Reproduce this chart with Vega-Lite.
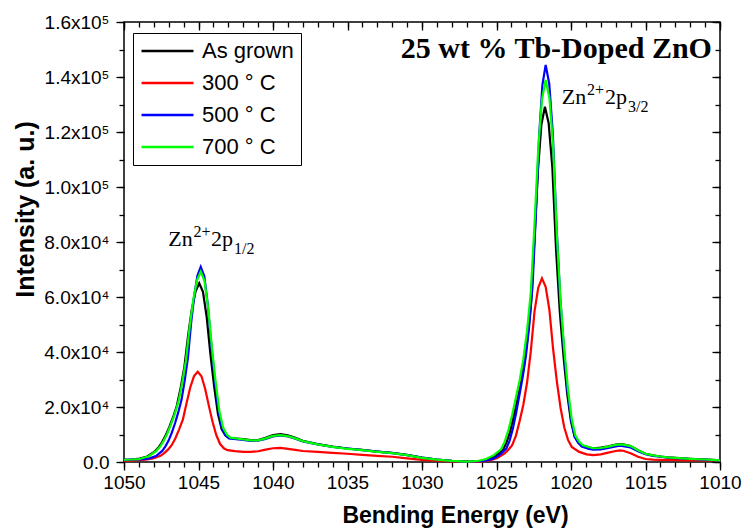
{
  "$schema": "https://vega.github.io/schema/vega-lite/v6.json",
  "width": 596,
  "height": 440,
  "autosize": {"type": "none"},
  "padding": {"left": 124, "top": 22, "right": 26, "bottom": 70},
  "background": "white",
  "config": {
    "view": {"stroke": "black", "strokeWidth": 1.5},
    "axis": {"domain": false, "grid": false, "tickColor": "black", "labelColor": "black", "titleColor": "black", "labelFont": "Liberation Sans", "titleFont": "Liberation Sans", "tickWidth": 1.3}
  },
  "datasets": {
    "spec": [
      {"s":"As grown","E":1050,"I":800},{"s":"As grown","E":1049.5,"I":900},{"s":"As grown","E":1048.95,"I":1223},{"s":"As grown","E":1048.45,"I":2010},{"s":"As grown","E":1047.95,"I":3717},{"s":"As grown","E":1047.7,"I":5154},{"s":"As grown","E":1047.45,"I":7153},{"s":"As grown","E":1047.2,"I":9683},{"s":"As grown","E":1046.95,"I":12842},{"s":"As grown","E":1046.7,"I":16368},{"s":"As grown","E":1046.45,"I":20523},{"s":"As grown","E":1046.2,"I":26886},{"s":"As grown","E":1045.95,"I":34501},{"s":"As grown","E":1045.7,"I":45900},{"s":"As grown","E":1045.45,"I":55477},{"s":"As grown","E":1045.2,"I":61975},{"s":"As grown","E":1044.95,"I":65000},{"s":"As grown","E":1044.7,"I":61917},{"s":"As grown","E":1044.45,"I":52696},{"s":"As grown","E":1044.2,"I":39179},{"s":"As grown","E":1043.95,"I":27493},{"s":"As grown","E":1043.7,"I":17608},{"s":"As grown","E":1043.45,"I":12000},{"s":"As grown","E":1043.2,"I":9688},{"s":"As grown","E":1042.95,"I":8717},{"s":"As grown","E":1042.45,"I":8474},{"s":"As grown","E":1042,"I":8300},{"s":"As grown","E":1041.5,"I":8000},{"s":"As grown","E":1041,"I":8000},{"s":"As grown","E":1040.5,"I":8800},{"s":"As grown","E":1040,"I":9800},{"s":"As grown","E":1039.5,"I":10100},{"s":"As grown","E":1039,"I":9700},{"s":"As grown","E":1038.5,"I":8800},{"s":"As grown","E":1038,"I":7700},{"s":"As grown","E":1037,"I":6500},{"s":"As grown","E":1036,"I":5600},{"s":"As grown","E":1035,"I":4900},{"s":"As grown","E":1034,"I":4400},{"s":"As grown","E":1033,"I":3800},{"s":"As grown","E":1032,"I":3300},{"s":"As grown","E":1031,"I":2600},{"s":"As grown","E":1030,"I":1600},{"s":"As grown","E":1029,"I":900},{"s":"As grown","E":1028,"I":420},{"s":"As grown","E":1027,"I":150},{"s":"As grown","E":1026.5,"I":280},{"s":"As grown","E":1025.98,"I":458},{"s":"As grown","E":1025.51,"I":1040},{"s":"As grown","E":1025.04,"I":2289},{"s":"As grown","E":1024.57,"I":4328},{"s":"As grown","E":1024.34,"I":6945},{"s":"As grown","E":1024.1,"I":10838},{"s":"As grown","E":1023.87,"I":16007},{"s":"As grown","E":1023.63,"I":21824},{"s":"As grown","E":1023.4,"I":27656},{"s":"As grown","E":1023.16,"I":34789},{"s":"As grown","E":1022.93,"I":44459},{"s":"As grown","E":1022.69,"I":57334},{"s":"As grown","E":1022.46,"I":80332},{"s":"As grown","E":1022.22,"I":105872},{"s":"As grown","E":1021.99,"I":122580},{"s":"As grown","E":1021.75,"I":129200},{"s":"As grown","E":1021.5,"I":123170},{"s":"As grown","E":1021.25,"I":107012},{"s":"As grown","E":1021,"I":76928},{"s":"As grown","E":1020.75,"I":54440},{"s":"As grown","E":1020.5,"I":38282},{"s":"As grown","E":1020.25,"I":24606},{"s":"As grown","E":1020,"I":14728},{"s":"As grown","E":1019.75,"I":9181},{"s":"As grown","E":1019.5,"I":7179},{"s":"As grown","E":1019.25,"I":5963},{"s":"As grown","E":1018.75,"I":5253},{"s":"As grown","E":1018.5,"I":5000},{"s":"As grown","E":1018,"I":5200},{"s":"As grown","E":1017.5,"I":5700},{"s":"As grown","E":1017,"I":6300},{"s":"As grown","E":1016.7,"I":6500},{"s":"As grown","E":1016.5,"I":6400},{"s":"As grown","E":1016,"I":5800},{"s":"As grown","E":1015.5,"I":4300},{"s":"As grown","E":1015,"I":3000},{"s":"As grown","E":1014.5,"I":2400},{"s":"As grown","E":1014,"I":2000},{"s":"As grown","E":1013.5,"I":1700},{"s":"As grown","E":1013,"I":1500},{"s":"As grown","E":1012,"I":1150},{"s":"As grown","E":1011,"I":900},{"s":"As grown","E":1010.5,"I":750},{"s":"As grown","E":1010,"I":600},
      {"s":"300 ° C","E":1050,"I":500},{"s":"300 ° C","E":1049.5,"I":520},{"s":"300 ° C","E":1049.05,"I":637},{"s":"300 ° C","E":1048.55,"I":841},{"s":"300 ° C","E":1048.05,"I":1260},{"s":"300 ° C","E":1047.55,"I":2255},{"s":"300 ° C","E":1047.3,"I":3219},{"s":"300 ° C","E":1047.05,"I":4489},{"s":"300 ° C","E":1046.8,"I":6106},{"s":"300 ° C","E":1046.55,"I":8665},{"s":"300 ° C","E":1046.3,"I":11879},{"s":"300 ° C","E":1046.05,"I":15410},{"s":"300 ° C","E":1045.8,"I":21441},{"s":"300 ° C","E":1045.55,"I":27174},{"s":"300 ° C","E":1045.3,"I":31217},{"s":"300 ° C","E":1045.05,"I":32800},{"s":"300 ° C","E":1044.8,"I":31196},{"s":"300 ° C","E":1044.55,"I":26527},{"s":"300 ° C","E":1044.3,"I":20322},{"s":"300 ° C","E":1044.05,"I":14424},{"s":"300 ° C","E":1043.8,"I":9715},{"s":"300 ° C","E":1043.55,"I":6534},{"s":"300 ° C","E":1043.3,"I":5003},{"s":"300 ° C","E":1043.05,"I":4323},{"s":"300 ° C","E":1042.55,"I":3954},{"s":"300 ° C","E":1042,"I":3700},{"s":"300 ° C","E":1041.5,"I":3700},{"s":"300 ° C","E":1041,"I":3900},{"s":"300 ° C","E":1040.5,"I":4500},{"s":"300 ° C","E":1040,"I":5000},{"s":"300 ° C","E":1039.5,"I":5100},{"s":"300 ° C","E":1039,"I":4800},{"s":"300 ° C","E":1038.5,"I":4400},{"s":"300 ° C","E":1038,"I":4000},{"s":"300 ° C","E":1037,"I":3700},{"s":"300 ° C","E":1036,"I":3350},{"s":"300 ° C","E":1035,"I":3000},{"s":"300 ° C","E":1034,"I":2600},{"s":"300 ° C","E":1033,"I":2200},{"s":"300 ° C","E":1032,"I":1900},{"s":"300 ° C","E":1031,"I":1350},{"s":"300 ° C","E":1030,"I":800},{"s":"300 ° C","E":1029,"I":450},{"s":"300 ° C","E":1028,"I":200},{"s":"300 ° C","E":1027,"I":80},{"s":"300 ° C","E":1026.5,"I":60},{"s":"300 ° C","E":1025.95,"I":252},{"s":"300 ° C","E":1025.45,"I":601},{"s":"300 ° C","E":1024.95,"I":1420},{"s":"300 ° C","E":1024.45,"I":3104},{"s":"300 ° C","E":1024.2,"I":4444},{"s":"300 ° C","E":1023.95,"I":6133},{"s":"300 ° C","E":1023.7,"I":9495},{"s":"300 ° C","E":1023.45,"I":14830},{"s":"300 ° C","E":1023.2,"I":20823},{"s":"300 ° C","E":1022.95,"I":28798},{"s":"300 ° C","E":1022.7,"I":40100},{"s":"300 ° C","E":1022.45,"I":54690},{"s":"300 ° C","E":1022.2,"I":63363},{"s":"300 ° C","E":1021.95,"I":66785},{"s":"300 ° C","E":1021.7,"I":63673},{"s":"300 ° C","E":1021.45,"I":55300},{"s":"300 ° C","E":1021.2,"I":41010},{"s":"300 ° C","E":1020.95,"I":29345},{"s":"300 ° C","E":1020.7,"I":19633},{"s":"300 ° C","E":1020.45,"I":12540},{"s":"300 ° C","E":1020.2,"I":8038},{"s":"300 ° C","E":1019.95,"I":5503},{"s":"300 ° C","E":1019.45,"I":3675},{"s":"300 ° C","E":1018.95,"I":2784},{"s":"300 ° C","E":1018.5,"I":2500},{"s":"300 ° C","E":1018,"I":2800},{"s":"300 ° C","E":1017.5,"I":3400},{"s":"300 ° C","E":1017,"I":4000},{"s":"300 ° C","E":1016.7,"I":4200},{"s":"300 ° C","E":1016.5,"I":4100},{"s":"300 ° C","E":1016,"I":3200},{"s":"300 ° C","E":1015.5,"I":1900},{"s":"300 ° C","E":1015,"I":1100},{"s":"300 ° C","E":1014.5,"I":850},{"s":"300 ° C","E":1014,"I":750},{"s":"300 ° C","E":1013,"I":650},{"s":"300 ° C","E":1012,"I":600},{"s":"300 ° C","E":1011,"I":550},{"s":"300 ° C","E":1010,"I":500},
      {"s":"500 ° C","E":1050,"I":800},{"s":"500 ° C","E":1049.5,"I":850},{"s":"500 ° C","E":1049,"I":950},{"s":"500 ° C","E":1048.7,"I":1050},{"s":"500 ° C","E":1048.29,"I":1323},{"s":"500 ° C","E":1047.86,"I":2174},{"s":"500 ° C","E":1047.43,"I":4041},{"s":"500 ° C","E":1047.22,"I":5651},{"s":"500 ° C","E":1047,"I":7864},{"s":"500 ° C","E":1046.79,"I":10675},{"s":"500 ° C","E":1046.57,"I":14167},{"s":"500 ° C","E":1046.36,"I":18024},{"s":"500 ° C","E":1046.14,"I":22588},{"s":"500 ° C","E":1045.93,"I":29527},{"s":"500 ° C","E":1045.71,"I":37884},{"s":"500 ° C","E":1045.5,"I":50269},{"s":"500 ° C","E":1045.28,"I":60730},{"s":"500 ° C","E":1045.07,"I":67834},{"s":"500 ° C","E":1044.85,"I":71000},{"s":"500 ° C","E":1044.61,"I":67552},{"s":"500 ° C","E":1044.38,"I":57359},{"s":"500 ° C","E":1044.14,"I":42497},{"s":"500 ° C","E":1043.9,"I":29619},{"s":"500 ° C","E":1043.66,"I":18735},{"s":"500 ° C","E":1043.43,"I":12301},{"s":"500 ° C","E":1043.19,"I":9710},{"s":"500 ° C","E":1042.95,"I":8556},{"s":"500 ° C","E":1042.48,"I":8291},{"s":"500 ° C","E":1042,"I":8000},{"s":"500 ° C","E":1041.5,"I":7700},{"s":"500 ° C","E":1041,"I":7750},{"s":"500 ° C","E":1040.5,"I":8400},{"s":"500 ° C","E":1040,"I":9300},{"s":"500 ° C","E":1039.5,"I":9700},{"s":"500 ° C","E":1039,"I":9300},{"s":"500 ° C","E":1038.5,"I":8500},{"s":"500 ° C","E":1038,"I":7500},{"s":"500 ° C","E":1037,"I":6400},{"s":"500 ° C","E":1036,"I":5500},{"s":"500 ° C","E":1035,"I":4900},{"s":"500 ° C","E":1034,"I":4300},{"s":"500 ° C","E":1033,"I":3800},{"s":"500 ° C","E":1032,"I":3200},{"s":"500 ° C","E":1031,"I":2500},{"s":"500 ° C","E":1030,"I":1600},{"s":"500 ° C","E":1029,"I":900},{"s":"500 ° C","E":1028,"I":420},{"s":"500 ° C","E":1027,"I":150},{"s":"500 ° C","E":1026.5,"I":200},{"s":"500 ° C","E":1026.1,"I":330},{"s":"500 ° C","E":1025.66,"I":538},{"s":"500 ° C","E":1025.22,"I":1195},{"s":"500 ° C","E":1024.78,"I":2591},{"s":"500 ° C","E":1024.34,"I":4867},{"s":"500 ° C","E":1024.12,"I":7787},{"s":"500 ° C","E":1023.9,"I":12139},{"s":"500 ° C","E":1023.68,"I":17919},{"s":"500 ° C","E":1023.46,"I":24417},{"s":"500 ° C","E":1023.24,"I":30945},{"s":"500 ° C","E":1023.02,"I":38896},{"s":"500 ° C","E":1022.8,"I":49722},{"s":"500 ° C","E":1022.58,"I":64096},{"s":"500 ° C","E":1022.36,"I":89809},{"s":"500 ° C","E":1022.14,"I":118387},{"s":"500 ° C","E":1021.92,"I":137053},{"s":"500 ° C","E":1021.7,"I":144400},{"s":"500 ° C","E":1021.46,"I":137553},{"s":"500 ° C","E":1021.22,"I":119377},{"s":"500 ° C","E":1020.97,"I":85609},{"s":"500 ° C","E":1020.73,"I":60346},{"s":"500 ° C","E":1020.49,"I":42170},{"s":"500 ° C","E":1020.25,"I":26778},{"s":"500 ° C","E":1020,"I":15539},{"s":"500 ° C","E":1019.76,"I":9261},{"s":"500 ° C","E":1019.52,"I":6951},{"s":"500 ° C","E":1019.28,"I":5584},{"s":"500 ° C","E":1018.79,"I":4783},{"s":"500 ° C","E":1018.5,"I":4500},{"s":"500 ° C","E":1018,"I":4600},{"s":"500 ° C","E":1017.5,"I":5100},{"s":"500 ° C","E":1017,"I":5700},{"s":"500 ° C","E":1016.7,"I":5900},{"s":"500 ° C","E":1016.5,"I":5800},{"s":"500 ° C","E":1016,"I":5300},{"s":"500 ° C","E":1015.5,"I":3900},{"s":"500 ° C","E":1015,"I":2800},{"s":"500 ° C","E":1014.5,"I":2200},{"s":"500 ° C","E":1014,"I":1900},{"s":"500 ° C","E":1013.5,"I":1600},{"s":"500 ° C","E":1013,"I":1400},{"s":"500 ° C","E":1012,"I":1100},{"s":"500 ° C","E":1011,"I":850},{"s":"500 ° C","E":1010.5,"I":700},{"s":"500 ° C","E":1010,"I":550},
      {"s":"700 ° C","E":1050,"I":820},{"s":"700 ° C","E":1049.5,"I":900},{"s":"700 ° C","E":1049,"I":1050},{"s":"700 ° C","E":1048.85,"I":1257},{"s":"700 ° C","E":1048.35,"I":2091},{"s":"700 ° C","E":1047.85,"I":3905},{"s":"700 ° C","E":1047.6,"I":5433},{"s":"700 ° C","E":1047.35,"I":7579},{"s":"700 ° C","E":1047.1,"I":10268},{"s":"700 ° C","E":1046.85,"I":13655},{"s":"700 ° C","E":1046.6,"I":17398},{"s":"700 ° C","E":1046.35,"I":21840},{"s":"700 ° C","E":1046.1,"I":28599},{"s":"700 ° C","E":1045.85,"I":36740},{"s":"700 ° C","E":1045.6,"I":48851},{"s":"700 ° C","E":1045.35,"I":59062},{"s":"700 ° C","E":1045.1,"I":66046},{"s":"700 ° C","E":1044.85,"I":69200},{"s":"700 ° C","E":1044.6,"I":65880},{"s":"700 ° C","E":1044.35,"I":56025},{"s":"700 ° C","E":1044.1,"I":41597},{"s":"700 ° C","E":1043.85,"I":29099},{"s":"700 ° C","E":1043.6,"I":18541},{"s":"700 ° C","E":1043.35,"I":12497},{"s":"700 ° C","E":1043.1,"I":10007},{"s":"700 ° C","E":1042.85,"I":8834},{"s":"700 ° C","E":1042.35,"I":8466},{"s":"700 ° C","E":1042,"I":8200},{"s":"700 ° C","E":1041.5,"I":7900},{"s":"700 ° C","E":1041,"I":7900},{"s":"700 ° C","E":1040.5,"I":8600},{"s":"700 ° C","E":1040,"I":9500},{"s":"700 ° C","E":1039.5,"I":9800},{"s":"700 ° C","E":1039,"I":9400},{"s":"700 ° C","E":1038.5,"I":8600},{"s":"700 ° C","E":1038,"I":7600},{"s":"700 ° C","E":1037,"I":6400},{"s":"700 ° C","E":1036,"I":5500},{"s":"700 ° C","E":1035,"I":4800},{"s":"700 ° C","E":1034,"I":4300},{"s":"700 ° C","E":1033,"I":3700},{"s":"700 ° C","E":1032,"I":3200},{"s":"700 ° C","E":1031,"I":2500},{"s":"700 ° C","E":1030,"I":1500},{"s":"700 ° C","E":1029,"I":850},{"s":"700 ° C","E":1028,"I":400},{"s":"700 ° C","E":1027,"I":150},{"s":"700 ° C","E":1026.5,"I":300},{"s":"700 ° C","E":1026.2,"I":452},{"s":"700 ° C","E":1025.7,"I":1067},{"s":"700 ° C","E":1025.2,"I":2394},{"s":"700 ° C","E":1024.7,"I":4577},{"s":"700 ° C","E":1024.45,"I":7382},{"s":"700 ° C","E":1024.2,"I":11569},{"s":"700 ° C","E":1023.95,"I":17124},{"s":"700 ° C","E":1023.7,"I":23380},{"s":"700 ° C","E":1023.45,"I":29645},{"s":"700 ° C","E":1023.2,"I":37314},{"s":"700 ° C","E":1022.95,"I":47717},{"s":"700 ° C","E":1022.7,"I":61566},{"s":"700 ° C","E":1022.45,"I":86319},{"s":"700 ° C","E":1022.2,"I":113777},{"s":"700 ° C","E":1021.95,"I":131788},{"s":"700 ° C","E":1021.7,"I":138900},{"s":"700 ° C","E":1021.45,"I":132388},{"s":"700 ° C","E":1021.2,"I":114977},{"s":"700 ° C","E":1020.95,"I":82579},{"s":"700 ° C","E":1020.7,"I":58356},{"s":"700 ° C","E":1020.45,"I":40935},{"s":"700 ° C","E":1020.2,"I":26198},{"s":"700 ° C","E":1019.95,"I":15529},{"s":"700 ° C","E":1019.7,"I":9548},{"s":"700 ° C","E":1019.45,"I":7362},{"s":"700 ° C","E":1019.2,"I":6050},{"s":"700 ° C","E":1018.7,"I":5272},{"s":"700 ° C","E":1018.5,"I":5000},{"s":"700 ° C","E":1018,"I":5100},{"s":"700 ° C","E":1017.5,"I":5600},{"s":"700 ° C","E":1017,"I":6200},{"s":"700 ° C","E":1016.7,"I":6400},{"s":"700 ° C","E":1016.5,"I":6300},{"s":"700 ° C","E":1016,"I":5800},{"s":"700 ° C","E":1015.5,"I":4300},{"s":"700 ° C","E":1015,"I":3000},{"s":"700 ° C","E":1014.5,"I":2400},{"s":"700 ° C","E":1014,"I":2000},{"s":"700 ° C","E":1013.5,"I":1700},{"s":"700 ° C","E":1013,"I":1500},{"s":"700 ° C","E":1012,"I":1150},{"s":"700 ° C","E":1011,"I":900},{"s":"700 ° C","E":1010.5,"I":750},{"s":"700 ° C","E":1010,"I":600}
    ],
    "anchor": [{"E": 1030, "I": 0}],
    "title": [{"E": 1010.54, "I": 146900, "t": "25 wt % Tb-Doped ZnO"}],
    "main": [
      {"E": 1020.62, "I": 130200, "t": "Zn"},
      {"E": 1017.72, "I": 130200, "t": "2p"},
      {"E": 1047.03, "I": 78545, "t": "Zn"},
      {"E": 1044.16, "I": 78545, "t": "2p"}
    ],
    "sup": [
      {"E": 1018.93, "I": 133450, "t": "2+"},
      {"E": 1045.34, "I": 81820, "t": "2+"}
    ],
    "sub": [
      {"E": 1016.17, "I": 127270, "t": "3/2"},
      {"E": 1042.62, "I": 75640, "t": "1/2"}
    ]
  },
  "resolve": {"axis": {"x": "independent", "y": "independent"}},
  "layer": [
    {
      "data": {"name": "spec"},
      "mark": {"type": "line", "strokeWidth": 2.2},
      "encoding": {
        "x": {"field": "E", "type": "quantitative",
          "scale": {"domain": [1010, 1050], "reverse": true, "nice": false, "zero": false},
          "axis": {"orient": "bottom", "values": [1010, 1015, 1020, 1025, 1030, 1035, 1040, 1045, 1050], "format": "d",
            "title": "Bending Energy (eV)", "titleFontSize": 23, "titleFontWeight": "bold", "titleX": 331, "titleY": 42, "titleBaseline": "top",
            "labelFontSize": 19, "labelFlush": false, "labelOverlap": false, "labelPadding": 3, "tickSize": 8}},
        "y": {"field": "I", "type": "quantitative",
          "scale": {"domain": [0, 160000], "nice": false},
          "axis": {"orient": "left", "values": [0, 20000, 40000, 60000, 80000, 100000, 120000, 140000, 160000],
            "labelExpr": "datum.value == 0 ? '0.0' : datum.value < 100000 ? format(datum.value / 10000, '.1f') + 'x10⁴' : format(datum.value / 100000, '.1f') + 'x10⁵'",
            "title": "Intensity (a. u.)", "titleFontSize": 25, "titleFontWeight": "bold", "titleX": -86, "titleY": 187, "titleBaseline": "bottom",
            "labelFontSize": 19, "labelPadding": 7, "tickSize": 8, "labelOverlap": false}},
        "color": {"field": "s", "type": "nominal",
          "scale": {"domain": ["As grown", "300 ° C", "500 ° C", "700 ° C"], "range": ["#000000", "#ff0000", "#0000ff", "#00ff00"]},
          "legend": {"orient": "none", "legendX": 9, "legendY": 11, "title": null, "labelFontSize": 22, "labelFont": "Liberation Sans", "labelColor": "black",
            "symbolType": "stroke", "symbolStrokeWidth": 2.5, "symbolSize": 2700, "strokeColor": "black", "fillColor": "white",
            "padding": 7, "rowPadding": 10, "labelOffset": 7, "clipHeight": 22}}
      }
    },
    {
      "data": {"name": "anchor"},
      "mark": {"type": "point", "opacity": 0},
      "encoding": {
        "x": {"field": "E", "type": "quantitative", "scale": {"domain": [1010, 1050], "reverse": true, "nice": false, "zero": false},
          "axis": {"orient": "bottom", "values": [1010,1011,1012,1013,1014,1015,1016,1017,1018,1019,1020,1021,1022,1023,1024,1025,1026,1027,1028,1029,1030,1031,1032,1033,1034,1035,1036,1037,1038,1039,1040,1041,1042,1043,1044,1045,1046,1047,1048,1049,1050], "labels": false, "title": null, "tickSize": 5}},
        "y": {"field": "I", "type": "quantitative", "scale": {"domain": [0, 160000], "nice": false},
          "axis": {"orient": "left", "values": [0,10000,20000,30000,40000,50000,60000,70000,80000,90000,100000,110000,120000,130000,140000,150000,160000], "labels": false, "title": null, "tickSize": 5}}
      }
    },
    {
      "data": {"name": "anchor"},
      "mark": {"type": "point", "opacity": 0},
      "encoding": {
        "x": {"field": "E", "type": "quantitative", "scale": {"domain": [1010, 1050], "reverse": true, "nice": false, "zero": false},
          "axis": {"orient": "bottom", "offset": -440, "values": [1010, 1015, 1020, 1025, 1030, 1035, 1040, 1045, 1050], "labels": false, "title": null, "tickSize": 8}},
        "y": {"field": "I", "type": "quantitative", "scale": {"domain": [0, 160000], "nice": false},
          "axis": {"orient": "left", "offset": -596, "values": [0, 20000, 40000, 60000, 80000, 100000, 120000, 140000, 160000], "labels": false, "title": null, "tickSize": 8}}
      }
    },
    {
      "data": {"name": "anchor"},
      "mark": {"type": "point", "opacity": 0},
      "encoding": {
        "x": {"field": "E", "type": "quantitative", "scale": {"domain": [1010, 1050], "reverse": true, "nice": false, "zero": false},
          "axis": {"orient": "bottom", "offset": -440, "values": [1010,1011,1012,1013,1014,1015,1016,1017,1018,1019,1020,1021,1022,1023,1024,1025,1026,1027,1028,1029,1030,1031,1032,1033,1034,1035,1036,1037,1038,1039,1040,1041,1042,1043,1044,1045,1046,1047,1048,1049,1050], "labels": false, "title": null, "tickSize": 5}},
        "y": {"field": "I", "type": "quantitative", "scale": {"domain": [0, 160000], "nice": false},
          "axis": {"orient": "left", "offset": -596, "values": [0,10000,20000,30000,40000,50000,60000,70000,80000,90000,100000,110000,120000,130000,140000,150000,160000], "labels": false, "title": null, "tickSize": 5}}
      }
    },
    {
      "data": {"name": "title"},
      "mark": {"type": "text", "align": "right", "baseline": "alphabetic", "font": "Liberation Serif", "fontWeight": "bold", "fontSize": 30, "color": "black"},
      "encoding": {
        "x": {"field": "E", "type": "quantitative", "axis": null},
        "y": {"field": "I", "type": "quantitative", "axis": null},
        "text": {"field": "t"}
      }
    },
    {
      "data": {"name": "main"},
      "mark": {"type": "text", "align": "left", "baseline": "alphabetic", "font": "Liberation Serif", "fontSize": 22, "color": "black"},
      "encoding": {
        "x": {"field": "E", "type": "quantitative", "axis": null},
        "y": {"field": "I", "type": "quantitative", "axis": null},
        "text": {"field": "t"}
      }
    },
    {
      "data": {"name": "sup"},
      "mark": {"type": "text", "align": "left", "baseline": "alphabetic", "font": "Liberation Serif", "fontSize": 16, "color": "black"},
      "encoding": {
        "x": {"field": "E", "type": "quantitative", "axis": null},
        "y": {"field": "I", "type": "quantitative", "axis": null},
        "text": {"field": "t"}
      }
    },
    {
      "data": {"name": "sub"},
      "mark": {"type": "text", "align": "left", "baseline": "alphabetic", "font": "Liberation Serif", "fontSize": 16, "color": "black"},
      "encoding": {
        "x": {"field": "E", "type": "quantitative", "axis": null},
        "y": {"field": "I", "type": "quantitative", "axis": null},
        "text": {"field": "t"}
      }
    }
  ]
}
